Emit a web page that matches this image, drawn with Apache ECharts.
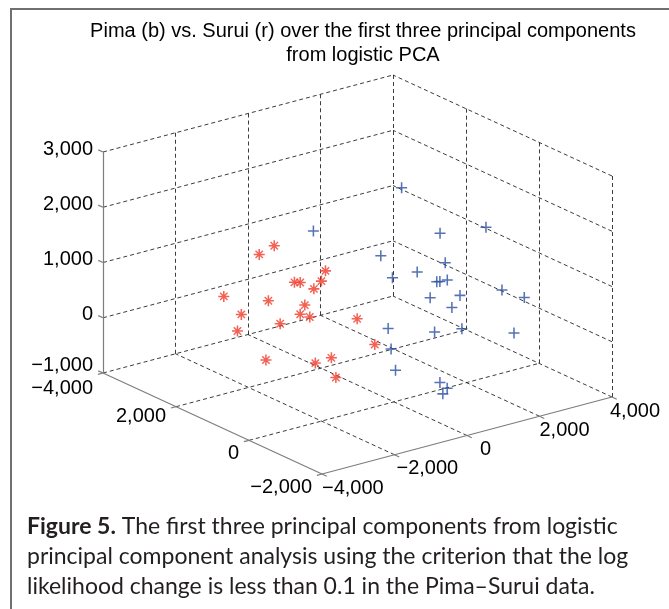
<!DOCTYPE html>
<html><head><meta charset="utf-8">
<script src="https://cdn.jsdelivr.net/npm/echarts@6/dist/echarts.min.js"></script>
<style>html,body{margin:0;padding:0;background:#fff}#c{width:669px;height:609px}</style>
</head><body><div id="c"></div>
<script>
// ---------------- data ----------------
const titleLines = ['Pima (b) vs. Surui (r) over the first three principal components', 'from logistic PCA'];
const xTicks = [-4000, -2000, 0, 2000, 4000];
const xTickLabels = ['\u22124,000', '\u22122,000', '0', '2,000', '4,000'];
const yTicks = [-2000, 0, 2000, 4000];
const yTickLabels = ['\u22122,000', '0', '2,000', '\u22124,000'];
const zTicks = [-1000, 0, 1000, 2000, 3000];
const zTickLabels = ['\u22121,000', '0', '1,000', '2,000', '3,000'];

// Pima (blue +)
const pimaX = [-1720, 210, 1530, 1270, 240, 910, 640, 260, 1180, 460, 1470, 1770, 2990, 1820, 1400, 590, 40, 1120, 1470, 1800, -80, -260, 260, 460, 340];
const pimaY = [500, 0, -1000, 0, 600, -500, 0, 300, 0, -800, 0, -1200, -600, 0, 400, -1000, 200, 0, -400, -1500, 0, -300, -1000, -1000, -1000];
const pimaZ = [2240, 2840, 2200, 1830, 1420, 1510, 1240, 1110, 970, 1340, 950, 1080, 550, 610, 520, 910, 260, 70, 190, 390, -30, -290, -390, -530, -610];

// Surui (red *)
const suruiX = [-1290, -2510, -380, -330, -1580, -190, -700, -2480, -2660, -950, -2500, -1380, -310, -1630, -10, -3010, 980, -1620, -620, -660, -1100];
const suruiY = [2000, 1200, 1500, 2400, 1000, 1800, 1500, 2200, 800, 1500, 1700, 1200, 2000, 1500, 1000, 1300, 1500, 1900, 1100, 1500, 500];
const suruiZ = [1440, 1740, 980, 490, 1130, 670, 710, 670, 1050, 460, 500, 460, -20, 240, 200, 410, -590, -540, -430, -640, -520];

const captionLines = [
  ['Figure 5.', ' The first three principal components from logistic'],
  ['', 'principal component analysis using the criterion that the log'],
  ['', 'likelihood change is less than 0.1 in the Pima\u2013Surui data.']
];

// ---------------- layout ----------------
const W = 669, H = 609;
// orthographic projection of the 3-D box onto the page (per 1000 units)
const P = { ox: 394, oy: 346.6, ex: [36.25, -9.625], ey: [-36.5, -16.83], ez: [0, -55.25] };
function proj(x, y, z) {
  const a = x / 1000, b = y / 1000, c = z / 1000;
  return [P.ox + P.ex[0] * a + P.ey[0] * b + P.ez[0] * c,
          P.oy + P.ex[1] * a + P.ey[1] * b + P.ez[1] * c];
}
const xMin = xTicks[0], xMax = xTicks[xTicks.length - 1];
const yMin = yTicks[0], yMax = yTicks[yTicks.length - 1];
const zMin = zTicks[0], zMax = zTicks[zTicks.length - 1];
function seg(p, q) { return { coords: [proj(p[0], p[1], p[2]), proj(q[0], q[1], q[2])] }; }

const gridSegs = [];
xTicks.forEach(x => { if (x !== xMin) {
  gridSegs.push(seg([x, yMin, zMin], [x, yMax, zMin]));
  gridSegs.push(seg([x, yMax, zMin], [x, yMax, zMax]));
}});
yTicks.forEach(y => {
  if (y !== yMin) gridSegs.push(seg([xMin, y, zMin], [xMax, y, zMin]));
  if (y !== yMax) gridSegs.push(seg([xMax, y, zMin], [xMax, y, zMax]));
});
zTicks.forEach(z => { if (z !== zMin) {
  gridSegs.push(seg([xMin, yMax, z], [xMax, yMax, z]));
  gridSegs.push(seg([xMax, yMin, z], [xMax, yMax, z]));
}});

const axisSegs = [
  seg([xMin, yMax, zMin], [xMin, yMax, zMax]),
  seg([xMin, yMin, zMin], [xMin, yMax, zMin]),
  seg([xMin, yMin, zMin], [xMax, yMin, zMin])
];
const tickSegs = [];
zTicks.forEach(z => tickSegs.push(seg([xMin, yMax, z], [xMin, yMax + 130, z])));
yTicks.forEach(y => tickSegs.push(seg([xMin, y, zMin], [xMin - 140, y, zMin])));
xTicks.forEach(x => tickSegs.push(seg([x, yMin, zMin], [x, yMin - 130, zMin])));

const pimaPts = pimaX.map((x, i) => proj(x, pimaY[i], pimaZ[i]));
const suruiPts = suruiX.map((x, i) => proj(x, suruiY[i], suruiZ[i]));

const plusPath = 'path://M43,0H57V43H100V57H57V100H43V57H0V43H43Z';
const starPath = 'path://M43,0H57V43H100V57H57V100H43V57H0V43H43Z M12,21L21,12L88,79L79,88Z M79,12L88,21L21,88L12,79Z M34,34H66V66H34Z';

const chart = echarts.init(document.getElementById('c'));
chart.setOption({
  animation: false,
  backgroundColor: '#fff',
  grid: { left: 0, right: 0, top: 0, bottom: 0 },
  xAxis: { type: 'value', min: 0, max: W, show: false },
  yAxis: { type: 'value', min: 0, max: H, inverse: true, show: false },
  series: [
    { type: 'lines', coordinateSystem: 'cartesian2d', silent: true, z: 1, data: gridSegs,
      lineStyle: { color: '#262626', width: 0.9, type: [4, 3], opacity: 1 } },
    { type: 'lines', coordinateSystem: 'cartesian2d', silent: true, z: 2, data: axisSegs.concat(tickSegs),
      lineStyle: { color: '#7d7d7d', width: 1.2, opacity: 1 } },
    { type: 'scatter', silent: true, z: 5, data: suruiPts, symbol: starPath, symbolSize: 11,
      itemStyle: { color: '#f03a2a' } },
    { type: 'scatter', silent: true, z: 6, data: pimaPts, symbol: plusPath, symbolSize: 11,
      itemStyle: { color: '#2a4fa3' } }
  ]
});

function px(p) { return chart.convertToPixel({ xAxisIndex: 0, yAxisIndex: 0 }, p); }
const tickFont = '20px "Liberation Sans", Arial, sans-serif';
const graphics = [];
graphics.push({ type: 'rect', shape: { x: 11, y: 9, width: 720, height: 720 }, silent: true,
  style: { fill: 'none', stroke: '#707070', lineWidth: 2 } });
titleLines.forEach((t, i) => graphics.push({ type: 'text', x: 363, y: 31 + i * 24, silent: true,
  style: { text: t, font: tickFont, fill: '#000', align: 'center', verticalAlign: 'middle' } }));

const zNudge = [-5, 0, 0, 0, 0];
zTicks.forEach((z, i) => { const p = px(proj(xMin, yMax, z));
  graphics.push({ type: 'text', x: p[0] - 10, y: p[1] - 3 + zNudge[i], silent: true,
    style: { text: zTickLabels[i], font: tickFont, fill: '#000', align: 'right', verticalAlign: 'middle' } }); });
const yNudge = [0, 0, -3, 2];
yTicks.forEach((y, i) => { const p = px(proj(xMin, y, zMin));
  graphics.push({ type: 'text', x: p[0] - 10, y: p[1] + 13 + yNudge[i], silent: true,
    style: { text: yTickLabels[i], font: tickFont, fill: '#000', align: 'right', verticalAlign: 'middle' } }); });
const xNudge = [0, 2, 13, 0, -2];
xTicks.forEach((x, i) => { const p = px(proj(x, yMin, zMin));
  graphics.push({ type: 'text', x: p[0] + xNudge[i], y: p[1] + 14, silent: true,
    style: { text: xTickLabels[i], font: tickFont, fill: '#000', align: 'left', verticalAlign: 'middle' } }); });

const capFont = '23px Lato, "Open Sans", sans-serif';
captionLines.forEach((ln, i) => graphics.push({ type: 'text', x: 27, y: 527 + i * 30, silent: true,
  style: { text: (ln[0] ? '{b|' + ln[0] + '}' : '') + ln[1], font: capFont, fill: '#231f20',
    align: 'left', verticalAlign: 'middle',
    rich: { b: { font: 'bold ' + capFont, fill: '#231f20' } } } }));

chart.setOption({ graphic: graphics });
</script></body></html>
